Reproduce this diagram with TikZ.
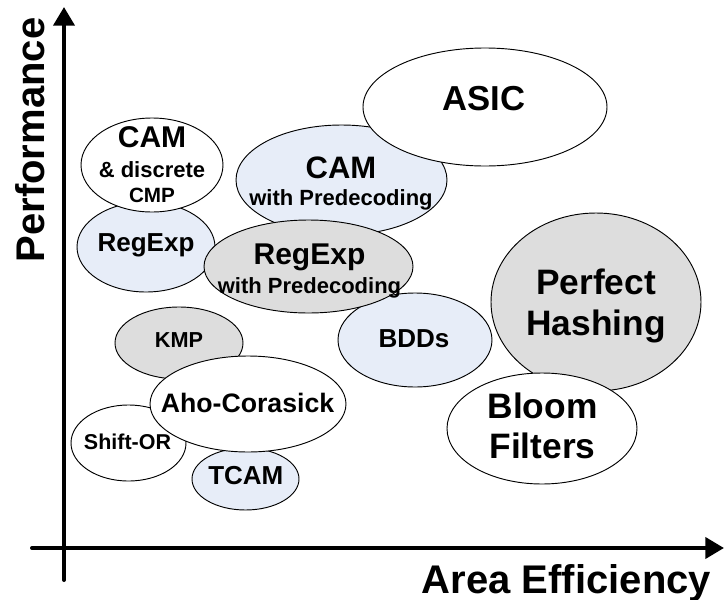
\documentclass[tikz,border=0pt]{standalone}
\usepackage{fontspec}
\setmainfont{Liberation Sans}
\usetikzlibrary{arrows.meta,shapes.geometric}
\definecolor{paleblue}{RGB}{231,237,248}
\definecolor{palegray}{RGB}{221,221,221}
\newcommand\fsz[2]{\fontsize{#1}{#2}\selectfont}
\begin{document}
\begin{tikzpicture}[x=0.75pt,y=-0.75pt,
  oval/.style 2 args={ellipse, draw=black, line width=0.7pt, inner sep=0pt,
    minimum width=#1*1.5pt, minimum height=#2*1.5pt},
  bluefill/.style={fill=paleblue},
  grayfill/.style={fill=palegray},
  whitefill/.style={fill=white},
  lbl/.style={font=\bfseries, align=center, inner sep=0pt},
  axis/.style={line width=3pt, line cap=round, -{Triangle[length=14pt,width=15.75pt]}}]
\useasboundingbox (0,0) rectangle (725,600);

% axes
\coordinate (origin-y) at (64,580);
\coordinate (top-y) at (64,7);
\coordinate (origin-x) at (32,548);
\coordinate (end-x) at (724,548);
\draw[axis] (origin-y) -- (top-y);
\draw[axis] (origin-x) -- (end-x);
\node[lbl, rotate=90, font=\bfseries\fsz{30pt}{30pt}] (perf) at (30,140) {Performance};
\node[lbl, anchor=base, font=\bfseries\fsz{30pt}{30pt}] (area) at (566.5,593) {Area Efficiency};

% techniques
\node[oval={105.5}{55}, bluefill] (campre) at (341.5,180) {};
\node[lbl, font=\bfseries\fsz{23.25pt}{20.25pt}] (campretext) at (341,184)
  {CAM\\{\fsz{16.5pt}{16.5pt}with Predecoding}};

\node[oval={122}{59}, whitefill] (asic) at (485,107) {};
\node[lbl, font=\bfseries\fsz{26pt}{26pt}] (asictext) at (484,98.5) {ASIC};

\node[oval={69}{45}, bluefill] (regexp) at (146,247) {};
\node[lbl, font=\bfseries\fsz{19.5pt}{19.5pt}] (regexptext) at (146,245) {RegExp};

\node[oval={71}{47}, whitefill] (camcmp) at (152,165) {};
\node[lbl, font=\bfseries\fsz{22.5pt}{22.5pt}] (camcmptext) at (152,165)
  {CAM\\{\fsz{16.5pt}{16.5pt}\& discrete}\\[-3.75pt]{\fsz{15.5pt}{15.5pt}CMP}};

\node[oval={77}{47}, bluefill] (bdd) at (415,340) {};
\node[lbl, font=\bfseries\fsz{19.5pt}{19.5pt}] (bddtext) at (414,339) {BDDs};

\node[oval={104.5}{46.5}, grayfill] (regpre) at (308.5,266.5) {};
\node[lbl, font=\bfseries\fsz{22.5pt}{21.75pt}] (regpretext) at (309.5,271)
  {RegExp\\{\fsz{16.5pt}{16.5pt}with Predecoding}};

\node[oval={105}{89}, grayfill] (hash) at (596,302) {};
\node[lbl, font=\bfseries\fsz{26.5pt}{31pt}] (hashtext) at (596,306) {Perfect\\Hashing};

\node[oval={95}{55.5}, whitefill] (bloom) at (542,428.5) {};
\node[lbl, font=\bfseries\fsz{26.5pt}{30.5pt}] (bloomtext) at (542.5,426) {Bloom\\Filters};

\node[oval={64}{36}, grayfill] (kmp) at (179,343) {};
\node[lbl, font=\bfseries\fsz{16.25pt}{16.25pt}] (kmptext) at (179,340) {KMP};

\node[oval={57.5}{38}, whitefill] (shiftor) at (128.5,443) {};
\node[lbl, font=\bfseries\fsz{16.1pt}{16.1pt}] (shiftortext) at (127.5,442) {Shift-OR};

\node[oval={53.5}{31}, bluefill] (tcam) at (245.5,479) {};
\node[lbl, font=\bfseries\fsz{19.5pt}{19.5pt}] (tcamtext) at (245.8,476) {TCAM};

\node[oval={98}{48}, whitefill] (aho) at (248,404) {};
\node[lbl, font=\bfseries\fsz{20pt}{20pt}] (ahotext) at (247.5,403) {Aho-Corasick};
\end{tikzpicture}
\end{document}
